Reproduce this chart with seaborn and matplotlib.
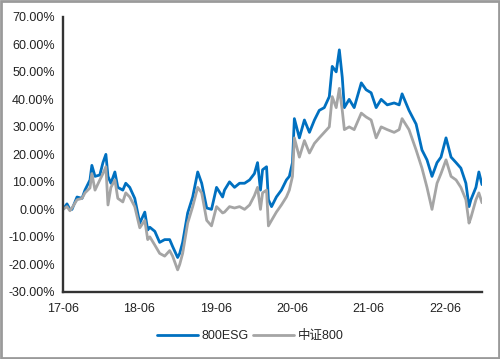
import pandas as pd
import matplotlib
matplotlib.use("Agg")
import matplotlib.pyplot as plt
import matplotlib.dates as mdates
from matplotlib.patches import Rectangle
from matplotlib.ticker import FuncFormatter, MultipleLocator
import seaborn as sns

# cumulative return (%)
dates = [
    "2017-06-01", "2017-06-20", "2017-07-04", "2017-07-14", "2017-08-07", "2017-08-31",
    "2017-09-14", "2017-10-08", "2017-10-17", "2017-11-01", "2017-11-24", "2017-12-09",
    "2017-12-23", "2018-01-02", "2018-01-16", "2018-02-04", "2018-02-18", "2018-03-14",
    "2018-03-28", "2018-04-16", "2018-05-10", "2018-06-03", "2018-06-27", "2018-07-11",
    "2018-07-21", "2018-08-14", "2018-09-06", "2018-09-30", "2018-10-24", "2018-11-07",
    "2018-12-01", "2018-12-11", "2018-12-25", "2019-01-18", "2019-02-11", "2019-03-07",
    "2019-03-26", "2019-04-19", "2019-05-12", "2019-06-05", "2019-07-04", "2019-07-13",
    "2019-08-06", "2019-08-30", "2019-09-23", "2019-10-17", "2019-11-10", "2019-12-03",
    "2019-12-18", "2020-01-01", "2020-01-11", "2020-01-30", "2020-02-08", "2020-02-23",
    "2020-03-17", "2020-04-10", "2020-05-04", "2020-05-18", "2020-06-02", "2020-06-11",
    "2020-07-05", "2020-07-29", "2020-08-22", "2020-09-15", "2020-10-08", "2020-11-01",
    "2020-11-25", "2020-12-09", "2020-12-28", "2021-01-12", "2021-01-26", "2021-02-05",
    "2021-02-28", "2021-03-24", "2021-04-27", "2021-05-20", "2021-06-13", "2021-07-07",
    "2021-07-31", "2021-08-29", "2021-10-01", "2021-10-25", "2021-11-08", "2021-12-11",
    "2022-01-14", "2022-02-11", "2022-03-07", "2022-03-31", "2022-04-24", "2022-05-13",
    "2022-06-06", "2022-06-30", "2022-07-24", "2022-08-16", "2022-09-09", "2022-09-24",
    "2022-10-03", "2022-10-27", "2022-11-10", "2022-11-25",
]
esg800 = [
    0, 2, 0, 0, 4.5, 4, 7, 10.7, 16, 12, 12.5, 17,
    20, 12, 9.5, 13.6, 8, 7, 9.5, 8, 4, -5, -1, -7.5,
    -6.5, -8, -12, -11, -11, -13.5, -17.5, -16, -12, -1.3, 4.5, 13.6,
    9.5, 0.5, 0, 8, 4.5, 7, 10, 8, 9.5, 9.5, 10.7, 13,
    17, 7, 14.4, 15.5, 3.5, 1, 4.5, 7, 10.7, 12, 17, 33,
    26, 32.5, 28, 32.5, 36, 37, 41, 52, 50, 58, 48, 37,
    40, 37, 46, 43.5, 42.4, 37, 40, 38, 38.7, 38, 42, 36,
    31, 21.6, 18, 12, 17, 19, 26, 19, 17, 15, 9.5, 1,
    3.5, 8, 13.6, 9,
]
csi800 = [
    0, 1, -0.5, 0.5, 3.5, 4, 6, 7.8, 13, 7, 10.7, 13,
    15.5, 1.6, 8, 10.7, 4, 2.7, 6, 4.5, 1, -6.7, -4, -11,
    -10, -13, -16, -17, -15, -17, -22, -20, -16, -5, 1, 8,
    6, -4, -6, 1, -1.3, -1, 1, 0.5, 1, 0, 1.6, 5,
    8, 0, 6, 7, -6, -4, -1, 1.6, 4.5, 7, 12, 26,
    19, 25, 20.5, 24, 26, 28, 30, 41, 37, 44, 36, 29,
    30, 29, 35, 33.6, 32.5, 26, 30, 29, 28, 29, 33, 29,
    21.6, 15, 8, 0, 9.5, 13, 18, 12, 10.7, 8, 3.5, -5,
    -3, 3.5, 6, 2.4,
]
series_names = ["800ESG", "中证800"]
series_colors = ["#0070C0", "#A5A5A5"]

df = pd.DataFrame({"date": pd.to_datetime(dates), series_names[0]: esg800, series_names[1]: csi800})
long_df = df.melt(id_vars="date", var_name="series", value_name="ret")

sns.set_theme(style="white")
plt.rcParams["font.family"] = ["Liberation Sans", "Noto Sans CJK SC", "DejaVu Sans"]

fig = plt.figure(figsize=(5.0, 3.59), dpi=100)
ax = fig.add_axes([0.126, 0.187, 0.838, 0.766])

sns.lineplot(data=long_df, x="date", y="ret", hue="series", hue_order=series_names,
             palette=series_colors, linewidth=2.0, ax=ax, legend=False)

ax.set_ylim(-30, 70)
ax.yaxis.set_major_locator(MultipleLocator(10))
ax.yaxis.set_major_formatter(FuncFormatter(lambda v, _: f"{v:.2f}%"))
ax.set_xlim(pd.Timestamp("2017-06-01"), pd.Timestamp("2022-11-25"))
ax.xaxis.set_major_locator(mdates.MonthLocator(bymonth=6, bymonthday=1))
ax.xaxis.set_major_formatter(mdates.DateFormatter("%y-%m"))
ax.set_xlabel("")
ax.set_ylabel("")

for side in ["top", "right"]:
    ax.spines[side].set_visible(False)
for side in ["left", "bottom"]:
    ax.spines[side].set_color("#333333")
    ax.spines[side].set_linewidth(1.7)
ax.tick_params(axis="both", direction="out", length=4, width=1.5, color="#333333",
               labelsize=9, labelcolor="#222222", pad=2)
ax.tick_params(axis="x", pad=4)

handles = [plt.Line2D([], [], color=c, linewidth=2.0) for c in series_colors]
fig.legend(handles, series_names, loc="center", bbox_to_anchor=(0.5, 0.064), ncol=2,
           frameon=False, fontsize=9, handlelength=3.3, columnspacing=0.3, handletextpad=0.3)

fig.patches.append(Rectangle((0.002, 0.003), 0.996, 0.994, transform=fig.transFigure,
                             fill=False, edgecolor="#9a9a9a", linewidth=2))

fig.savefig("out.png", dpi=100)
